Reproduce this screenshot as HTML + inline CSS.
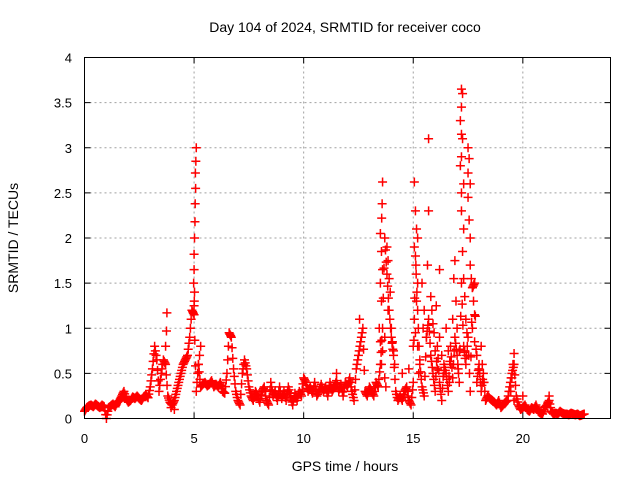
<!DOCTYPE html>
<html><head><meta charset="utf-8"><style>
body{margin:0;background:#fff}
svg{display:block;font-family:"Liberation Sans",sans-serif}
</style></head><body>
<svg id="chart" width="640" height="480" viewBox="0 0 640 480" xmlns="http://www.w3.org/2000/svg">
<text x="345" y="32" font-size="14" text-anchor="middle">Day 104 of 2024, SRMTID for receiver coco</text>
<text x="18" y="238" font-size="14" text-anchor="middle" transform="rotate(-90 18 238)">SRMTID / TECUs</text>
<text x="345" y="471" font-size="14" text-anchor="middle">GPS time / hours</text>
<g id="grid"></g>
<g id="marks"></g>
<rect x="84.5" y="57.5" width="526" height="361" fill="none" stroke="#000" stroke-width="1"/>
<g id="ticks"></g>
</svg>
<script>
const xTicks=[0,5,10,15,20];
const yTicks=[0,0.5,1,1.5,2,2.5,3,3.5,4];
const yTickLabels=["0","0.5","1","1.5","2","2.5","3","3.5","4"];
const baseTimes=[];
for(let i=0;i<=228;i++)baseTimes.push(+(i/10).toFixed(1));
const baseValues=[
.08,.12,.14,.15,.13,.16,.14,.12,.15,.13,
0,.12,.14,.16,.13,.18,.2,.25,.3,.22,
.18,.2,.24,.22,.25,.22,.2,.24,.26,.23,
.35,.55,.8,.65,.3,.5,.65,.6,.25,.18,
.15,.2,.3,.4,.5,.6,.65,.7,.9,1.2,
1.15,.3,.6,.35,.38,.4,.36,.38,.42,.35,
.38,.35,.4,.3,.28,.5,.95,.9,.55,.3,
.2,.15,.5,.65,.55,.35,.25,.2,.3,.25,
.18,.3,.35,.2,.15,.4,.25,.3,.2,.35,
.22,.3,.2,.35,.25,.15,.28,.2,.3,.25,
.45,.4,.3,.35,.28,.4,.25,.3,.38,.3,
.35,.25,.4,.3,.35,.42,.3,.38,.25,.4,
.35,.45,.3,.2,.55,.7,.85,1.0,.3,.25,
.35,.3,.25,.4,.35,.6,1.0,2.0,1.6,1.2,
.9,.7,.3,.2,.25,.2,.3,.35,.2,.15,
.4,1.8,1.2,.6,.35,.25,.9,1.1,.7,.5,
.3,.8,.4,.2,.6,.5,.3,.8,.45,.9,
.7,.4,1.5,.8,.6,.9,.3,1.45,1.5,.4,
.6,.3,.5,.2,.25,.22,.2,.18,.15,.2,
.12,.15,.18,.2,.35,.5,.6,.25,.15,.1,
.12,.15,.1,.08,.12,.1,.15,.08,.06,.05,
.12,.15,.2,.08,.05,.06,.05,.08,.06,.05,
.05,.04,.06,.05,.04,.05,.03,.04,.05];
const spikeTimes=[5.1,5.08,5.06,5.07,5.05,5.04,5.02,5.0,5.0,4.98,5.02,5.01,5.0,3.76,3.74,3.7,5.3,5.25,5.2,
13.6,13.58,13.56,13.5,13.55,13.6,13.5,13.55,13.45,13.5,13.6,13.55,13.7,13.8,13.85,13.9,13.95,13.85,14.0,14.05,14.1,14.15,13.7,13.75,
14.5,14.8,15.0,15.05,15.1,15.15,15.2,15.05,15.12,15.2,15.15,15.05,15.1,15.2,15.3,15.25,15.4,15.5,15.45,15.6,15.7,15.7,15.65,15.8,15.85,15.9,15.95,16.0,16.1,16.2,16.05,16.2,16.3,16.4,16.5,16.6,16.7,16.65,16.8,16.85,16.9,16.95,17.0,17.1,17.05,
17.2,17.25,17.2,17.15,17.2,17.25,17.2,17.15,17.3,17.2,17.2,17.3,17.25,17.3,17.35,17.4,17.45,17.35,17.5,17.55,17.5,17.6,17.5,17.55,17.6,17.6,17.65,17.7,17.75,17.8,17.7,17.8,17.9,18.0,18.1,18.15,18.2,
19.6,19.55,19.5,19.45,19.6,20.0,21.2,21.15,4.1,3.95,11.5,12.55];
const spikeValues=[3.0,2.85,2.72,2.55,2.38,2.18,2.0,1.82,1.65,1.5,1.4,1.3,1.25,1.17,0.97,0.8,0.8,0.7,0.6,
2.62,2.38,2.22,2.05,1.85,1.65,1.5,1.3,1.0,0.85,0.75,0.6,0.9,1.9,1.75,1.55,1.4,1.2,1.0,0.85,0.75,0.6,0.45,0.35,
0.5,0.55,0.8,2.62,2.3,2.1,2.0,1.9,1.7,1.5,1.3,1.1,0.95,0.8,0.65,0.5,1.5,1.2,1.0,0.9,3.1,2.3,1.7,1.35,1.2,1.05,0.95,0.75,0.55,1.65,1.25,0.9,0.7,0.5,1.0,0.75,0.6,0.4,1.1,1.55,1.75,1.3,1.0,0.75,0.55,
3.65,3.6,3.45,3.3,3.15,3.1,2.9,2.8,2.6,2.5,2.3,2.1,1.85,1.55,1.35,1.1,0.95,0.75,3.0,2.88,2.72,2.6,2.45,2.2,2.0,1.7,1.55,1.45,1.3,1.15,1.0,0.85,0.7,0.55,0.8,0.6,0.4,
0.72,0.6,0.45,0.3,0.2,0.25,0.25,0.18,0.1,0.12,0.5,1.1];
const X0=84.5,X1=610.5,Y0=418.5,Y1=57.5,XMAX=24,YMAX=4;
const xs=t=>X0+(X1-X0)*t/XMAX;
const ys=v=>Y0-(Y0-Y1)*v/YMAX;
const NS="http://www.w3.org/2000/svg";
const grid=document.getElementById('grid'),ticks=document.getElementById('ticks'),marks=document.getElementById('marks');
function mk(tag,attrs,parent){const e=document.createElementNS(NS,tag);for(const k in attrs)e.setAttribute(k,attrs[k]);parent.appendChild(e);return e;}
xTicks.forEach(t=>{
  const x=xs(t);
  if(t>0){const g=mk('line',{x1:x,x2:x,y1:Y0,y2:Y1,stroke:'#a0a0a0','stroke-dasharray':'2,3'},grid);
  
  }
  mk('line',{x1:x,x2:x,y1:Y0,y2:Y0-6,stroke:'#000'},ticks);
  mk('line',{x1:x,x2:x,y1:Y1,y2:Y1+6,stroke:'#000'},ticks);
  const l=mk('text',{x:x,y:443,'font-size':13,'text-anchor':'middle'},ticks);l.textContent=t;
  
  
});
yTicks.forEach((v,i)=>{
  const y=ys(v);
  if(v>0&&v<4){const g=mk('line',{x1:X0,x2:X1,y1:y,y2:y,stroke:'#a0a0a0','stroke-dasharray':'2,3'},grid);
  
  }
  mk('line',{x1:X0,x2:X0+6,y1:y,y2:y,stroke:'#000'},ticks);
  mk('line',{x1:X1,x2:X1-6,y1:y,y2:y,stroke:'#000'},ticks);
  const l=mk('text',{x:72,y:y+5,'font-size':13,'text-anchor':'end'},ticks);l.textContent=yTickLabels[i];
  
  
});
function plus(t,v){
  const x=xs(t),y=ys(v);
  const p=mk('path',{d:`M${x-4.5} ${y}H${x+4.5}M${x} ${y-4.5}V${y+4.5}`,stroke:'#f00','stroke-width':1.5,fill:'none'},marks);
  
  
}
baseTimes.forEach((t,i)=>{if(baseValues[i]!==undefined){plus(t,baseValues[i]);
  if(i+1<baseValues.length){plus(t+0.033,baseValues[i]*2/3+baseValues[i+1]/3);plus(t+0.066,baseValues[i]/3+baseValues[i+1]*2/3);}}});
spikeTimes.forEach((t,i)=>plus(t,spikeValues[i]));
</script>
</body></html>
